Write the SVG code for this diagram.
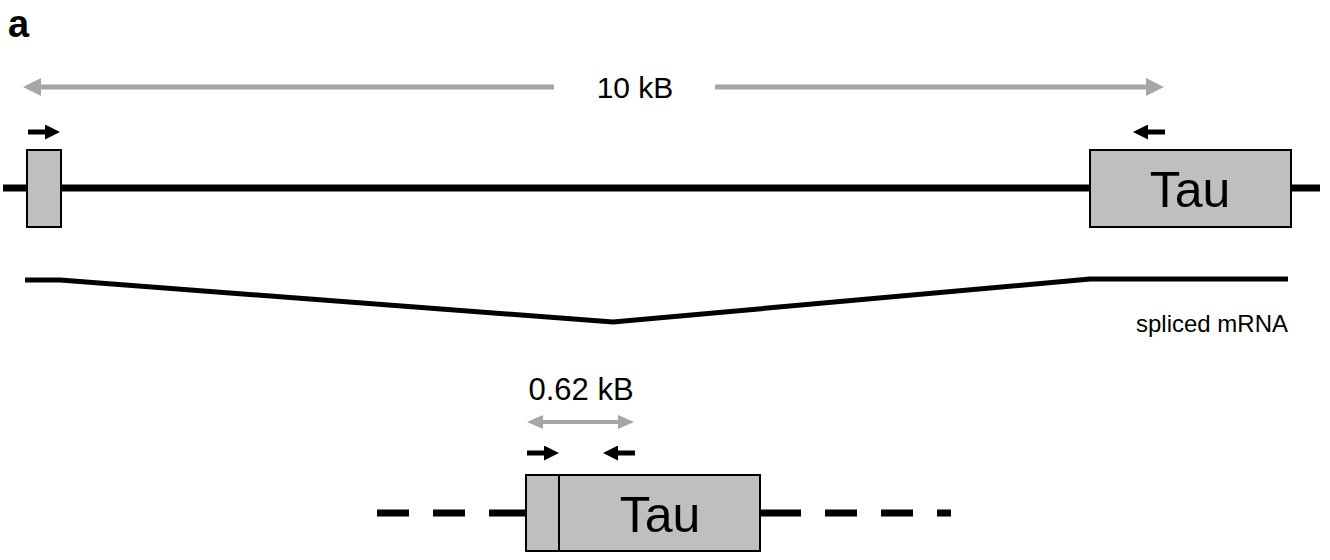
<svg xmlns="http://www.w3.org/2000/svg" width="1330" height="560" viewBox="0 0 1330 560">
<style>
text{font-family:"Liberation Sans",Arial,sans-serif;fill:#000}
.gray{stroke:#a6a6a6;stroke-width:5;fill:none}
.gray2{stroke:#a6a6a6;stroke-width:4;fill:none}
.primer{stroke:#000;stroke-width:5;fill:none}
.exon{fill:#bfbfbf;stroke:#000;stroke-width:2}
.dna{stroke:#000;stroke-width:7;fill:none}
</style>
<defs>
<marker id="gh" markerUnits="userSpaceOnUse" markerWidth="18" markerHeight="18" viewBox="0 0 16 16" refX="0" refY="8" orient="auto-start-reverse"><path d="M0,0 L16,8 L0,16 Z" fill="#a6a6a6"/></marker>
<marker id="gh2" markerUnits="userSpaceOnUse" markerWidth="16" markerHeight="14" viewBox="0 0 16 14" refX="0" refY="7" orient="auto-start-reverse"><path d="M0,0 L16,7 L0,14 Z" fill="#a6a6a6"/></marker>
<marker id="bh" markerUnits="userSpaceOnUse" markerWidth="15" markerHeight="15" viewBox="0 0 15 15" refX="0" refY="7.5" orient="auto-start-reverse"><path d="M0,0 L15,7.5 L0,15 Z" fill="#000"/></marker>
</defs>
<text x="8" y="37" font-size="38" font-weight="bold">a</text>
<g id="connectors">
<line class="gray" x1="41" y1="87" x2="554" y2="87" marker-start="url(#gh)"/>
<line class="gray" x1="715" y1="87" x2="1146" y2="87" marker-end="url(#gh)"/>
<line class="primer" x1="28" y1="132" x2="45" y2="132" marker-end="url(#bh)"/>
<line class="primer" x1="1165" y1="132" x2="1148" y2="132" marker-end="url(#bh)"/>
<line class="dna" x1="3" y1="188" x2="1320" y2="188"/>
<polyline points="25,280 60,280 613,322 1090,279 1288,279" stroke="#000" stroke-width="5" fill="none"/>
<line class="gray2" x1="543" y1="422" x2="618" y2="422" marker-start="url(#gh2)" marker-end="url(#gh2)"/>
<line class="primer" x1="527" y1="453" x2="544" y2="453" marker-end="url(#bh)"/>
<line class="primer" x1="635" y1="453" x2="618" y2="453" marker-end="url(#bh)"/>
<g stroke="#000" stroke-width="7">
<line x1="377" y1="513" x2="409" y2="513"/>
<line x1="433" y1="513" x2="465" y2="513"/>
<line x1="489" y1="513" x2="526" y2="513"/>
<line x1="760" y1="513" x2="801" y2="513"/>
<line x1="825" y1="513" x2="857" y2="513"/>
<line x1="881" y1="513" x2="913" y2="513"/>
<line x1="937" y1="513" x2="951" y2="513"/>
</g>
</g>
<g id="label-10kb"><text x="635" y="98" font-size="30" text-anchor="middle">10 kB</text></g>
<g id="exon1"><rect class="exon" x="27" y="150" width="34" height="77"/></g>
<g id="tau-gene"><rect class="exon" x="1090" y="150" width="201" height="77"/><text x="1190" y="207" font-size="50" text-anchor="middle">Tau</text></g>
<g id="label-spliced"><text x="1212" y="332" font-size="24" text-anchor="middle">spliced mRNA</text></g>
<g id="label-062"><text x="581" y="400" font-size="31" text-anchor="middle">0.62 kB</text></g>
<g id="tau-cdna"><rect class="exon" x="526" y="475" width="234" height="76"/><line x1="559" y1="475" x2="559" y2="551" stroke="#000" stroke-width="2"/><text x="660" y="532" font-size="50" text-anchor="middle">Tau</text></g>
</svg>
